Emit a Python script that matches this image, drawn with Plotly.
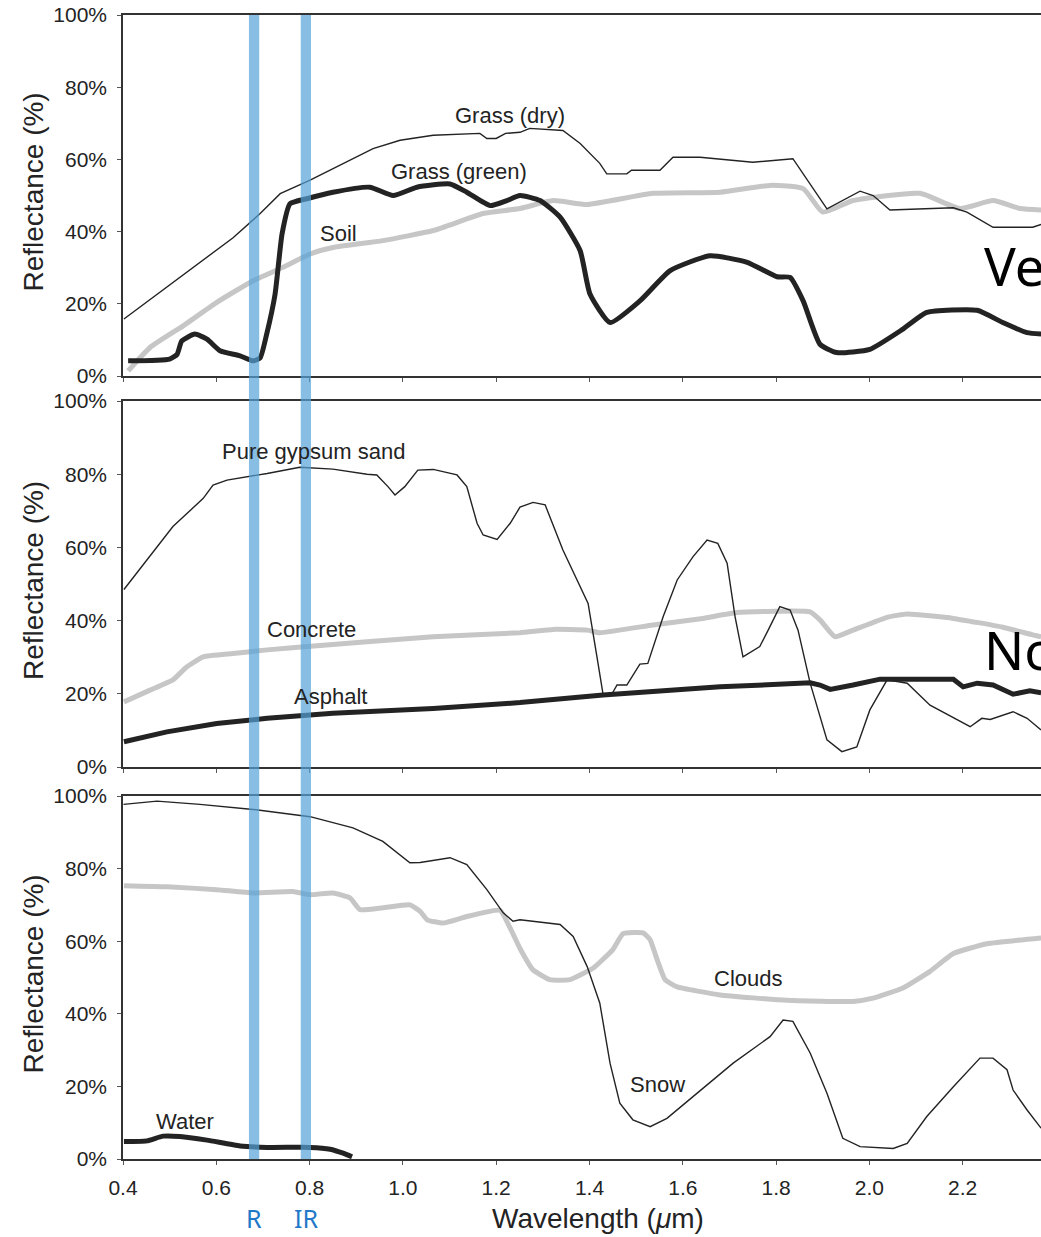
import plotly.graph_objects as go

# ---------------- data (wavelength in µm, reflectance in %) ----------------
grass_dry_x = [0.402, 0.636, 0.694, 0.737, 0.80, 0.887, 0.936, 0.994, 1.065, 1.165, 1.18, 1.20, 1.22,
               1.251, 1.272, 1.343, 1.38, 1.422, 1.437, 1.48, 1.49, 1.551, 1.579, 1.637, 1.75, 1.836,
               1.909, 1.98, 2.008, 2.044, 2.18, 2.209, 2.265, 2.35, 2.368]
grass_dry_y = [15.8, 38.3, 45.0, 50.5, 54.2, 59.7, 63.0, 65.3, 66.7, 67.2, 65.8, 65.8, 67.2,
               67.5, 68.6, 68.0, 64.4, 58.9, 56.0, 56.0, 57.0, 57.0, 60.6, 60.6, 59.2, 60.2,
               46.3, 51.2, 50.0, 46.0, 46.6, 45.4, 41.2, 41.2, 42.0]

grass_green_x = [0.411, 0.50, 0.516, 0.526, 0.554, 0.58, 0.608, 0.651, 0.679, 0.694, 0.708, 0.726, 0.741,
                 0.758, 0.794, 0.85, 0.929, 0.979, 1.03, 1.101, 1.137, 1.187, 1.223, 1.251, 1.294, 1.337,
                 1.38, 1.401, 1.444, 1.508, 1.573, 1.658, 1.738, 1.802, 1.83, 1.858, 1.894, 1.93, 2.001,
                 2.072, 2.123, 2.231, 2.286, 2.338, 2.368]
grass_green_y = [4.2, 4.7, 6.0, 9.7, 11.6, 10.2, 7.0, 5.6, 4.2, 5.0, 11.6, 22.7, 39.4,
                 47.7, 49.1, 50.9, 52.3, 50.0, 52.3, 53.2, 50.9, 47.2, 48.6, 50.0, 48.6, 44.0,
                 34.7, 22.7, 14.8, 20.8, 29.2, 33.3, 31.5, 27.5, 27.3, 20.8, 8.8, 6.5, 7.4,
                 13.0, 17.6, 18.2, 14.8, 12.0, 11.6]

soil_x = [0.411, 0.458, 0.529, 0.601, 0.679, 0.743, 0.801, 0.85, 0.957, 1.065, 1.172, 1.251, 1.322, 1.395,
          1.536, 1.68, 1.787, 1.858, 1.90, 1.965, 2.108, 2.194, 2.265, 2.323, 2.368]
soil_y = [1.4, 7.9, 13.9, 20.4, 26.4, 30.1, 33.8, 35.6, 37.5, 40.3, 45.0, 46.4, 48.6, 47.5,
          50.6, 50.9, 52.8, 51.9, 45.4, 48.6, 50.6, 46.4, 48.6, 46.4, 46.0]

gypsum_x = [0.402, 0.458, 0.507, 0.572, 0.593, 0.623, 0.709, 0.779, 0.85, 0.923, 0.944, 0.968, 0.983,
            1.004, 1.032, 1.065, 1.116, 1.137, 1.159, 1.172, 1.202, 1.23, 1.251, 1.279, 1.305, 1.343,
            1.384, 1.397, 1.416, 1.429, 1.448, 1.459, 1.48, 1.508, 1.525, 1.558, 1.588, 1.622, 1.652,
            1.675, 1.695, 1.712, 1.729, 1.765, 1.783, 1.808, 1.83, 1.847, 1.873, 1.909, 1.941, 1.973,
            2.001, 2.038, 2.081, 2.13, 2.216, 2.241, 2.259, 2.308, 2.338, 2.368]
gypsum_y = [48.5, 57.5, 65.7, 73.4, 77.0, 78.4, 80.2, 81.9, 81.4, 80.0, 79.8, 76.6, 74.3,
            76.6, 81.1, 81.3, 79.8, 76.6, 66.6, 63.4, 62.2, 66.6, 71.0, 72.3, 71.6, 59.3,
            48.4, 44.7, 30.1, 19.9, 19.9, 22.4, 22.4, 28.1, 28.3, 41.1, 51.1, 57.5, 62.0,
            61.1, 55.7, 41.1, 30.1, 32.9, 37.4, 43.8, 42.9, 37.4, 22.9, 7.4, 4.2, 5.5,
            15.6, 23.8, 22.9, 16.9, 11.0, 13.3, 13.0, 15.1, 13.3, 10.1]

concrete_x = [0.402, 0.458, 0.507, 0.537, 0.572, 0.636, 0.709, 0.816, 0.923, 1.065, 1.251, 1.322, 1.395,
              1.422, 1.536, 1.643, 1.716, 1.873, 1.894, 1.926, 1.965, 2.038, 2.081, 2.18, 2.286, 2.35, 2.368]
concrete_y = [17.8, 21.0, 23.8, 27.4, 30.1, 31.0, 32.0, 33.1, 34.2, 35.6, 36.7, 37.6, 37.4,
              36.7, 38.8, 40.6, 42.2, 42.4, 40.2, 35.6, 37.4, 40.9, 41.8, 40.6, 38.2, 36.1, 35.6]

asphalt_x = [0.402, 0.494, 0.601, 0.709, 0.85, 1.065, 1.251, 1.429, 1.68, 1.873, 1.894, 1.916, 1.965,
             2.023, 2.18, 2.201, 2.231, 2.265, 2.308, 2.344, 2.368]
asphalt_y = [6.9, 9.6, 11.9, 13.3, 14.7, 16.0, 17.6, 19.7, 21.9, 23.0, 22.4, 21.2, 22.4,
             24.0, 24.0, 21.9, 22.9, 22.4, 19.9, 20.8, 20.3]

snow_x = [0.401, 0.473, 0.565, 0.679, 0.801, 0.893, 0.957, 1.015, 1.037, 1.101, 1.137, 1.18, 1.215, 1.236,
          1.251, 1.337, 1.365, 1.395, 1.422, 1.444, 1.465, 1.493, 1.53, 1.566, 1.609, 1.708, 1.787,
          1.815, 1.836, 1.873, 1.909, 1.943, 1.98, 2.051, 2.081, 2.123, 2.18, 2.237, 2.265, 2.295,
          2.308, 2.338, 2.368]
snow_y = [97.7, 98.6, 97.7, 96.3, 94.3, 91.2, 87.5, 81.6, 81.7, 83.0, 81.1, 74.2, 67.8, 65.5,
          65.9, 64.6, 61.3, 53.0, 43.0, 26.4, 15.4, 10.8, 8.9, 11.2, 15.8, 26.4, 33.7,
          38.3, 37.9, 29.2, 18.1, 5.7, 3.4, 2.9, 4.3, 11.7, 19.9, 27.8, 27.8, 24.6,
          19.0, 13.5, 8.5]

clouds_x = [0.402, 0.494, 0.601, 0.679, 0.764, 0.801, 0.85, 0.887, 0.908, 0.957, 1.015, 1.037, 1.052,
            1.086, 1.137, 1.208, 1.23, 1.251, 1.279, 1.315, 1.358, 1.408, 1.45, 1.472, 1.515, 1.53,
            1.545, 1.562, 1.588, 1.68, 1.823, 1.965, 2.008, 2.072, 2.13, 2.18, 2.252, 2.368]
clouds_y = [75.3, 75.0, 74.2, 73.3, 73.7, 72.8, 73.3, 71.9, 68.7, 69.2, 70.0, 68.2, 65.9,
            65.0, 66.8, 68.5, 63.6, 58.0, 52.1, 49.4, 49.4, 52.6, 57.7, 62.1, 62.3, 60.4,
            54.9, 49.4, 47.4, 45.2, 43.7, 43.4, 44.3, 47.1, 51.7, 56.6, 59.3, 60.9]

water_x = [0.402, 0.451, 0.486, 0.522, 0.58, 0.651, 0.709, 0.801, 0.844, 0.872, 0.891]
water_y = [4.8, 5.0, 6.3, 6.2, 5.2, 3.6, 3.2, 3.2, 2.7, 1.6, 0.6]

x_ticks = [0.4, 0.6, 0.8, 1.0, 1.2, 1.4, 1.6, 1.8, 2.0, 2.2, 2.4]
x_tick_labels = ["0.4", "0.6", "0.8", "1.0", "1.2", "1.4", "1.6", "1.8", "2.0", "2.2", "2.4"]
y_ticks = [0, 20, 40, 60, 80, 100]
y_tick_labels = ["0%", "20%", "40%", "60%", "80%", "100%"]
bands = {"R": 0.681, "IR": 0.792}
band_halfwidth = 0.011

# ---------------- figure ----------------
W, H = 1041, 1237
ML, MT, MB = 123, 15, 78
PH = H - MT - MB          # plot height in px
X_MAX = 0.4 + (W - ML) / 466.5

def py(px):               # pixel row -> paper fraction
    return (H - MB - px) / PH

def px_x(px):             # pixel column -> paper fraction
    return (px - ML) / (W - ML)

GRAY = "#c6c6c6"
DARK = "#232323"
FONT = "Liberation Sans, Arial, Helvetica, sans-serif"
SANS2 = "Noto Sans, Open Sans, sans-serif"

fig = go.Figure()

def add(x, y, panel, color, width, shape="linear", smooth=None):
    sfx = "" if panel == 1 else str(panel)
    line = dict(color=color, width=width, shape=shape)
    if smooth is not None:
        line["smoothing"] = smooth
    fig.add_trace(go.Scatter(x=x, y=y, mode="lines", xaxis="x" + sfx, yaxis="y" + sfx,
                             line=line, hoverinfo="skip", showlegend=False))

# panel 1: vegetation
add(soil_x, soil_y, 1, GRAY, 5, "spline", 0.5)
add(grass_dry_x, grass_dry_y, 1, DARK, 1.4)
add(grass_green_x, grass_green_y, 1, DARK, 5, "spline", 0.5)
# panel 2
add(concrete_x, concrete_y, 2, GRAY, 5, "spline", 0.4)
add(gypsum_x, gypsum_y, 2, DARK, 1.4)
add(asphalt_x, asphalt_y, 2, DARK, 5)
# panel 3
add(clouds_x, clouds_y, 3, GRAY, 5, "spline", 0.4)
add(snow_x, snow_y, 3, DARK, 1.4)
add(water_x, water_y, 3, DARK, 5, "spline", 0.5)

domains = {
    1: [py(376), 1.0],
    2: [py(767), py(401)],
    3: [0.0, py(796)],
}

axis_line = dict(showline=True, linecolor="#333333", linewidth=1.5, showgrid=False, zeroline=False,
                 ticks="outside", ticklen=4, tickwidth=1, tickcolor="#555555")

layout = dict(width=W, height=H, margin=dict(l=ML, r=0, t=MT, b=MB, autoexpand=False),
              paper_bgcolor="white", plot_bgcolor="white", showlegend=False,
              font=dict(family=FONT, color=DARK, size=21))

for p in (1, 2, 3):
    sfx = "" if p == 1 else str(p)
    layout["xaxis" + sfx] = dict(axis_line, range=[0.4, X_MAX], domain=[0, 1], anchor="y" + sfx,
                                 mirror=True, tickmode="array", tickvals=x_ticks, ticktext=x_tick_labels,
                                 showticklabels=(p == 3), ticklabelstandoff=5,
                                 tickfont=dict(size=21, family=FONT, color=DARK))
    layout["yaxis" + sfx] = dict(axis_line, range=[0, 100], domain=domains[p], anchor="x" + sfx,
                                 tickmode="array", tickvals=y_ticks, ticktext=y_tick_labels,
                                 ticklabelstandoff=6,
                                 tickfont=dict(size=21, family=FONT, color=DARK))

fig.update_layout(**layout)

# blue measurement bands
for name, xc in bands.items():
    fig.add_shape(type="rect", xref="x3", yref="paper", x0=xc - band_halfwidth, x1=xc + band_halfwidth,
                  y0=0, y1=1, fillcolor="rgba(85,161,216,0.7)", line=dict(width=0), layer="above")
    fig.add_annotation(xref="x3", yref="paper", x=xc, y=py(1218), text=name, showarrow=False,
                       font=dict(size=25, color="#1f78c8", family=SANS2),
                       xanchor="center", yanchor="middle")

# curve labels
labels = [
    ("Grass (dry)", 1.23, 72.2, 1), ("Grass (green)", 1.12, 56.7, 1), ("Soil", 0.861, 39.4, 1),
    ("Pure gypsum sand", 0.809, 86.1, 2), ("Concrete", 0.805, 37.7, 2), ("Asphalt", 0.844, 19.4, 2),
    ("Water", 0.533, 10.2, 3), ("Clouds", 1.74, 49.7, 3), ("Snow", 1.545, 20.4, 3),
]
for t, x, y, p in labels:
    sfx = "" if p == 1 else str(p)
    fig.add_annotation(xref="x" + sfx, yref="y" + sfx, x=x, y=y, text=t, showarrow=False,
                       font=dict(size=22, color=DARK, family=FONT), xanchor="center", yanchor="middle")

# axis titles
for p, (top, bot) in {1: (15, 376), 2: (401, 767), 3: (796, 1159)}.items():
    fig.add_annotation(xref="paper", yref="paper", x=px_x(33), y=py((top + bot) / 2 - 3),
                       text="Reflectance (%)", textangle=-90, showarrow=False,
                       font=dict(size=28, color=DARK, family=FONT), xanchor="center", yanchor="middle")
fig.add_annotation(xref="paper", yref="paper", x=px_x(598), y=py(1218),
                   text="Wavelength (<i>μ</i>m)", showarrow=False,
                   font=dict(size=28, color=DARK, family=FONT), xanchor="center", yanchor="middle")

# large (cropped) category titles
fig.add_annotation(xref="paper", yref="paper", x=px_x(982), y=py(265), text="Vegetation",
                   showarrow=False, xanchor="left", yanchor="middle",
                   font=dict(size=53, color="black", family=SANS2))
fig.add_annotation(xref="paper", yref="paper", x=px_x(982), y=py(650), text="Non-vegetation",
                   showarrow=False, xanchor="left", yanchor="middle",
                   font=dict(size=53, color="black", family=SANS2))

fig.write_html("out.html", config={"displayModeBar": False},
               post_script="document.body.style.margin='0';document.body.style.overflow='hidden';")
